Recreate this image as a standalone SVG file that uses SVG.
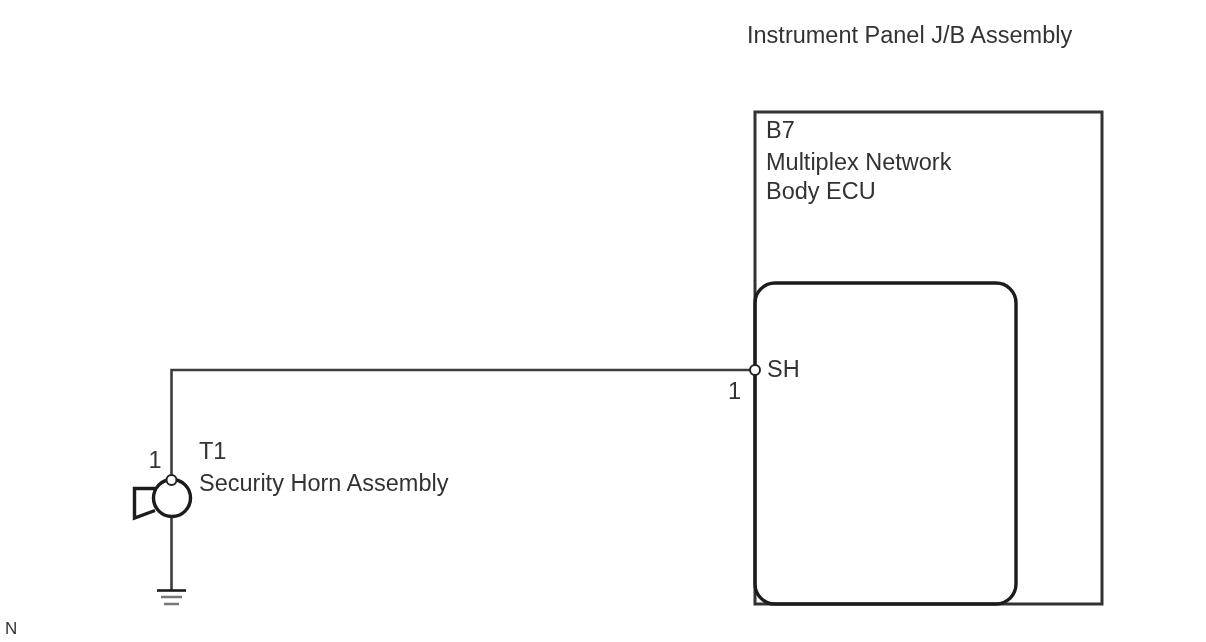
<svg xmlns="http://www.w3.org/2000/svg" width="1206" height="642" viewBox="0 0 1206 642">
<style>
text{font-family:"Liberation Sans",Arial,sans-serif;font-size:23.5px;fill:#333}
.l{fill:none;stroke:#3d3d3d;stroke-width:2.6}
.o{fill:none;stroke:#333;stroke-width:3}
.t{fill:none;stroke:#1a1a1a;stroke-width:3.4}
.p{fill:#fff;stroke:#222;stroke-width:2}
.g2{fill:none;stroke:#777;stroke-width:2.4}
</style>
<defs><filter id="soft" filterUnits="userSpaceOnUse" x="0" y="0" width="1206" height="642"><feGaussianBlur stdDeviation="0.4"/></filter></defs>
<rect width="1206" height="642" fill="#fff"/>
<g filter="url(#soft)">
<text x="747" y="43">Instrument Panel J/B Assembly</text>
<g id="ecu">
<rect class="o" x="755" y="112" width="347" height="492"/>
<rect class="t" x="755" y="283" width="261" height="321" rx="20"/>
<text x="766" y="138">B7</text>
<text x="766" y="170">Multiplex Network</text>
<text x="766" y="199">Body ECU</text>
<text x="767" y="377">SH</text>
<text x="728" y="399">1</text>
</g>
<g id="connectors">
<path class="l" d="M755 370H171.500V480"/>
<path class="l" d="M171.500 517V590"/>
</g>
<g id="pin-sh"><circle class="p" cx="755" cy="370" r="5"/></g>
<g id="horn">
<circle class="t" cx="172" cy="498" r="18.500"/>
<path class="t" d="M155 488.500H134.500V518L155 510.500"/>
<circle class="p" cx="171.500" cy="480" r="5"/>
<text x="148.500" y="468">1</text>
<text x="199" y="459">T1</text>
<text x="199" y="491">Security Horn Assembly</text>
</g>
<g id="ground">
<path class="t" style="stroke-width:2.6" d="M157 590.500H186"/>
<path class="g2" d="M161 597H182M164 604H179"/>
</g>
<text x="5" y="634" style="font-size:17px">N</text>
</g>
</svg>
